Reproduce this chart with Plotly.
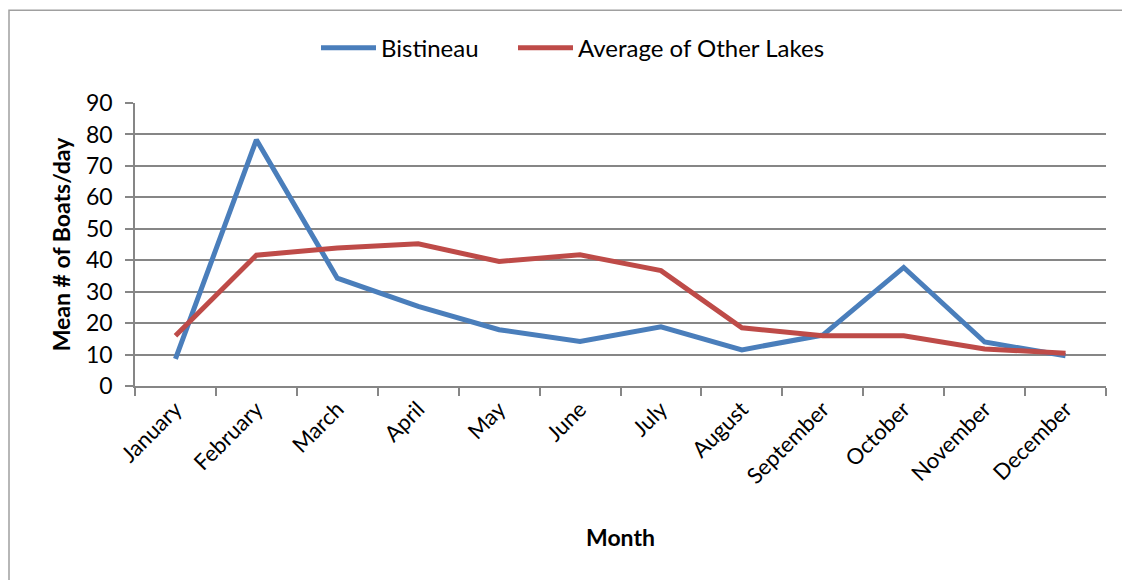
import plotly.graph_objects as go

months = ["January", "February", "March", "April", "May", "June", "July",
          "August", "September", "October", "November", "December"]
bistineau = [8.6, 78.3, 34.3, 25.3, 17.9, 14.2, 18.8, 11.5, 16.2, 37.7, 14.0, 9.6]
other_lakes = [16.0, 41.6, 43.9, 45.2, 39.6, 41.7, 36.7, 18.5, 16.0, 16.0, 11.8, 10.4]
y_ticks = [0, 10, 20, 30, 40, 50, 60, 70, 80, 90]

FONT = "Lato, Calibri, Carlito, sans-serif"

W, H = 1122, 580
L, R, T, B = 135, 16, 103, 193.5
pw, ph = W - L - R, H - T - B

fig = go.Figure()
fig.add_trace(go.Scatter(x=months, y=bistineau, mode="lines", name="Bistineau",
                         line=dict(color="#4A7EBB", width=5), legend="legend"))
fig.add_trace(go.Scatter(x=months, y=other_lakes, mode="lines", name="Average of Other Lakes",
                         line=dict(color="#BE4B48", width=5), legend="legend2"))

def px_x(x):
    return (x - L) / pw

def px_y(y):
    return 1 - (y - T) / ph

fig.add_shape(type="rect", xref="paper", yref="paper",
              x0=px_x(9), x1=px_x(1140), y0=px_y(600), y1=px_y(10),
              line=dict(color="#A0A0A0", width=1.5), fillcolor="rgba(0,0,0,0)", layer="below")

leg_common = dict(orientation="h", yanchor="middle", y=px_y(48), xanchor="left",
                  font=dict(family=FONT, size=24, color="black"), itemwidth=55,
                  bgcolor="rgba(0,0,0,0)", borderwidth=0)

fig.update_layout(
    width=W, height=H,
    margin=dict(l=L, r=R, t=T, b=B),
    paper_bgcolor="white", plot_bgcolor="white",
    font=dict(family=FONT, size=22, color="black"),
    showlegend=True,
    legend=dict(x=px_x(322 - 6), **leg_common),
    legend2=dict(x=px_x(519 - 6), **leg_common),
    xaxis=dict(
        type="category", tickangle=-45, showgrid=False,
        showline=True, linecolor="#868686", linewidth=1.5,
        ticks="outside", tickson="boundaries", ticklen=8, tickcolor="#868686", tickwidth=1.5,
        tickfont=dict(family=FONT, size=22),
        title=dict(text="<b>Month</b>", font=dict(family=FONT, size=23), standoff=42),
        range=[-0.5, 11.5], fixedrange=True,
    ),
    yaxis=dict(
        range=[0, 90], tickvals=y_ticks, showgrid=True, gridcolor="#868686", gridwidth=1.5,
        showline=True, linecolor="#868686", linewidth=1.5,
        ticks="outside", ticklen=8, tickcolor="#868686", tickwidth=1.5,
        tickfont=dict(family=FONT, size=23),
        ticklabelstandoff=8,
        title=dict(text="<b>Mean # of Boats/day</b>", font=dict(family=FONT, size=23), standoff=9),
        zeroline=False, fixedrange=True,
    ),
)

fig.write_html("out.html", config={"displayModeBar": False},
               post_script="document.body.style.margin='0';document.body.style.padding='0';")
